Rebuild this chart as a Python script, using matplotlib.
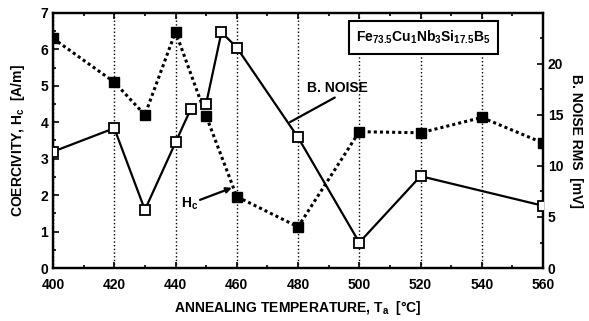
import matplotlib
matplotlib.use("Agg")
import matplotlib.pyplot as plt
import numpy as np

plt.rcParams['font.family'] = ['Liberation Sans', 'DejaVu Sans']
plt.rcParams['font.weight'] = 'bold'
plt.rcParams['axes.labelweight'] = 'bold'
plt.rcParams['mathtext.fontset'] = 'custom'
plt.rcParams['mathtext.rm'] = 'Liberation Sans:bold'
plt.rcParams['mathtext.bf'] = 'Liberation Sans:bold'
plt.rcParams['mathtext.default'] = 'rm'

# coercivity Hc [A/m]
hc_temp = [400, 420, 430, 440, 450, 460, 480, 500, 520, 540, 560]
hc_val = [6.3, 5.1, 4.2, 6.48, 4.17, 1.96, 1.13, 3.74, 3.71, 4.13, 3.43]

# Barkhausen noise RMS [mV], line broken between 445 and 450
bn_temp_a = [400, 420, 430, 440, 445]
bn_val_a = [11.4, 13.7, 5.7, 12.3, 15.6]
bn_temp_b = [450, 455, 460, 480, 500, 520, 560]
bn_val_b = [16.1, 23.1, 21.6, 12.8, 2.5, 9.0, 6.1]

fig = plt.figure(figsize=(5.89, 3.21), dpi=100)
ax = fig.add_axes([0.09, 0.165, 0.832, 0.795])
ax2 = ax.twinx()

ax.plot(hc_temp, hc_val, color='k', linestyle=(0, (1, 1)), linewidth=2.2,
        marker='s', markersize=7, markerfacecolor='k', zorder=3)
for t, v in [(bn_temp_a, bn_val_a), (bn_temp_b, bn_val_b)]:
    ax2.plot(t, v, color='k', linewidth=1.6, marker='s', markersize=7,
             markerfacecolor='white', markeredgewidth=1.3, zorder=3)

ax.set_xlim(400, 560)
ax.set_ylim(0, 7)
ax2.set_ylim(0, 25)
ax.set_xticks(np.arange(400, 561, 20))
ax.set_xticks(np.arange(400, 561, 10), minor=True)
ax.set_yticks(np.arange(0, 8, 1))
ax.set_yticks(np.arange(0, 7.01, 0.5), minor=True)
ax2.set_yticks([0, 5, 10, 15, 20])
ax2.set_yticks(np.arange(0, 25.01, 2.5), minor=True)

ax.grid(axis='x', which='major', linestyle=':', color='k', linewidth=1)
ax.tick_params(direction='in', top=True, labelsize=10, length=4, width=1.2)
ax.tick_params(axis='x', pad=7)
ax.tick_params(which='minor', direction='in', top=True, length=2.5, width=1.2)
ax2.tick_params(direction='in', labelsize=10, length=4, width=1.2)
ax2.tick_params(which='minor', direction='in', length=2.5, width=1.2)
for a in (ax, ax2):
    for s in a.spines.values():
        s.set_linewidth(1.6)

ax.set_xlabel('ANNEALING TEMPERATURE, T$_a$  [°C]', fontsize=10, labelpad=5)
ax.set_ylabel('COERCIVITY, H$_c$  [A/m]', fontsize=10, labelpad=10)
ax2.set_ylabel('B. NOISE RMS  [mV]', fontsize=10, rotation=270, labelpad=14)

ax2.text(521, 22.6, 'Fe$_{73.5}$Cu$_1$Nb$_3$Si$_{17.5}$B$_5$', fontsize=10,
         ha='center', va='center', zorder=5,
         bbox=dict(boxstyle='square,pad=0.55', facecolor='white', edgecolor='k', linewidth=1.5))

ax2.text(493, 17.6, 'B. NOISE', fontsize=10, ha='center', va='center')
ax2.annotate('', xy=(477.4, 14.3), xytext=(492, 16.7),
             arrowprops=dict(arrowstyle='-', color='k', linewidth=1.6, shrinkA=0, shrinkB=0))
ax.text(444.7, 1.75, 'H$_c$', fontsize=10, ha='center', va='center')
ax.annotate('', xy=(458.4, 2.2), xytext=(448, 1.87),
            arrowprops=dict(arrowstyle='-|>', color='k', linewidth=1.6, shrinkA=0, shrinkB=0,
                            mutation_scale=8))

fig.savefig('out.png', dpi=100)
